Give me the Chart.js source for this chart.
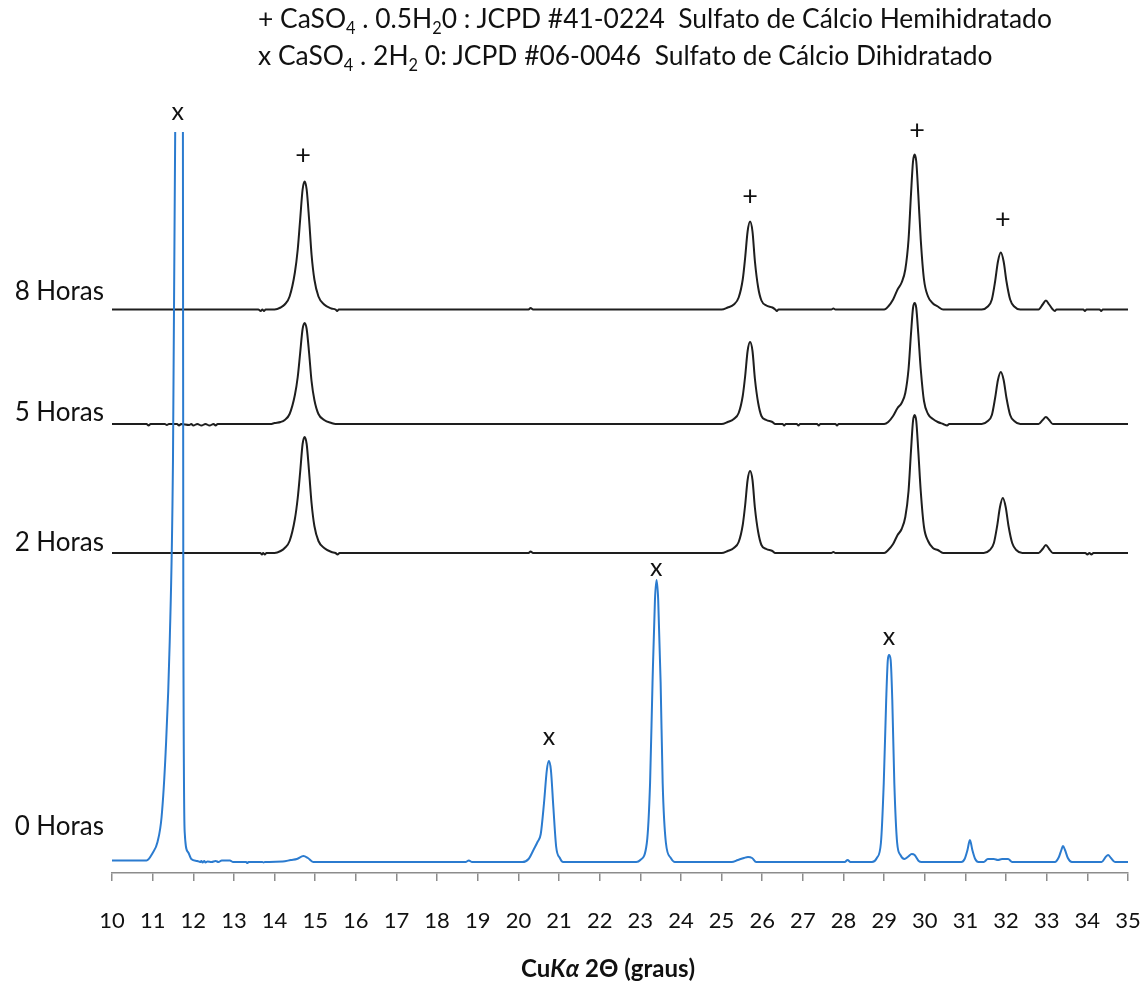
<!DOCTYPE html>
<html lang="pt">
<head>
<meta charset="utf-8">
<title>DRX - Sulfato de Cálcio</title>
<script src="https://cdn.jsdelivr.net/npm/chart.js@4.4.1/dist/chart.umd.min.js"></script>
<style>
  html, body { margin: 0; padding: 0; background: #fff; }
  #wrap { position: relative; width: 1148px; height: 983px; }
  #xrd { position: absolute; left: 0; top: 0; }
  .hdr { position: absolute; left: 258px; top: 0px; font-family: Lato, "Liberation Sans", sans-serif;
         font-size: 26.4px; line-height: 37px; color: #111; white-space: pre; }
  .hdr sub { font-size: 0.62em; vertical-align: -0.35em; line-height: 0; }
  .xtitle { position: absolute; left: 521px; top: 953px; font-family: Lato, "Liberation Sans", sans-serif;
            font-size: 24px; font-weight: bold; color: #111; white-space: pre; }
</style>
</head>
<body>
<div id="wrap">
  <canvas id="xrd" width="1148" height="983"></canvas>
  <div class="hdr"><div>+ CaSO<sub>4</sub> . 0.5H<sub>2</sub>0 : JCPD #41-0224  Sulfato de Cálcio Hemihidratado</div><div>x CaSO<sub>4</sub> . 2H<sub>2</sub> 0: JCPD #06-0046  Sulfato de Cálcio Dihidratado</div></div>
  <div class="xtitle">Cu<i>Kα</i> 2Θ (graus)</div>
</div>
<script>
const trace0h = [
  [10, 1.5], [10.85, 1.5], [11.00, 9], [11.12, 20], [11.22, 45], [11.32, 110], [11.42, 220],
  [11.50, 400], [11.56, 760], [11.63, 1400], [11.745, 730], [11.755, 262], [11.79, 29], [11.87, 10], [11.95, 3],
  [12.10, 1], [12.17, 0], [12.20, 1], [12.23, -0.5], [12.27, 1], [12.30, -0.5], [12.35, 0.5],
  [12.45, 0], [12.55, 1], [12.62, 0], [12.70, 1.5], [12.90, 1.5], [12.98, 0], [13.30, 0],
  [13.33, -1], [13.36, 0], [13.70, 0], [13.73, -0.5], [13.76, 0], [14.20, 0.5], [14.40, 2],
  [14.55, 3], [14.71, 6], [14.82, 4], [14.95, 0], [18.70, 0], [18.78, 1.5], [18.86, 0],
  [20.10, 0], [20.25, 3], [20.37, 12], [20.47, 20], [20.55, 28], [20.63, 59], [20.70, 92],
  [20.75, 101], [20.80, 92], [20.86, 55], [20.93, 15], [21.02, 4], [21.10, 0],
  [22.90, 0], [23.00, 2], [23.16, 19], [23.24, 79], [23.30, 179], [23.36, 262], [23.40, 282],
  [23.44, 262], [23.50, 179], [23.55, 79], [23.63, 19], [23.75, 4], [23.85, 0],
  [25.25, 0], [25.40, 2], [25.55, 4], [25.65, 5], [25.75, 4], [25.85, 0],
  [28.03, 0], [28.10, 2], [28.17, 0],
  [28.70, 0], [28.82, 4], [28.92, 19], [28.99, 79], [29.05, 162], [29.09, 202], [29.12, 207],
  [29.16, 202], [29.20, 162], [29.25, 79], [29.32, 19], [29.40, 7], [29.50, 3], [29.58, 5],
  [29.68, 8], [29.75, 7], [29.85, 1], [29.92, 0],
  [30.90, 0], [30.98, 3], [31.05, 12], [31.11, 22], [31.17, 12], [31.24, 3], [31.32, 0],
  [31.45, 0], [31.55, 3], [31.70, 3], [31.80, 2], [31.90, 3], [32.05, 3], [32.15, 0],
  [33.20, 0], [33.30, 5], [33.36, 12], [33.40, 16], [33.45, 12], [33.52, 4], [33.62, 0],
  [34.35, 0], [34.45, 5], [34.51, 7], [34.58, 4], [34.68, 0], [35, 0]
];

const trace2h = [
  [10, 0], [13.65, 0], [13.69, -1.5], [13.72, 0], [13.76, -1.5], [13.80, 0],
  [14.00, 0], [14.15, 2], [14.25, 5], [14.37, 12], [14.50, 34], [14.57, 55], [14.63, 81],
  [14.69, 109], [14.74, 116], [14.79, 109], [14.85, 81], [14.91, 50], [14.98, 27], [15.08, 12],
  [15.22, 5], [15.40, 1], [15.50, 0], [15.55, -1.5], [15.60, 0],
  [20.25, 0], [20.30, 1.5], [20.36, 0],
  [25.00, 0], [25.15, 2], [25.30, 5], [25.42, 11], [25.52, 28], [25.58, 48], [25.64, 73],
  [25.70, 82], [25.76, 73], [25.82, 45], [25.90, 21], [25.98, 8], [26.10, 4], [26.25, 2], [26.32, 0],
  [27.70, 0], [27.75, 1], [27.80, 0],
  [29.00, 0], [29.10, 3], [29.22, 9], [29.33, 18], [29.43, 24], [29.52, 36], [29.60, 62],
  [29.66, 102], [29.71, 132], [29.75, 138], [29.79, 132], [29.84, 102], [29.90, 62],
  [29.98, 26], [30.08, 12], [30.20, 5], [30.32, 3], [30.45, 0],
  [31.45, 0], [31.60, 3], [31.70, 10], [31.78, 27], [31.85, 46], [31.92, 55], [31.99, 46],
  [32.06, 27], [32.15, 10], [32.25, 3], [32.40, 0],
  [32.80, 0], [32.90, 4], [32.98, 8], [33.06, 4], [33.15, 0],
  [33.95, 0], [34.00, -1.5], [34.05, 0], [34.10, -1.5], [34.15, 0], [35, 0]
];

const trace5h = [
  [10, 0], [10.85, 0], [10.90, -1.5], [10.95, 0], [11.30, 0], [11.35, -1], [11.40, 0],
  [11.60, 0], [11.65, -1.5], [11.70, 0], [11.90, -1], [11.95, 0], [12.00, -1.5], [12.10, 0],
  [12.20, -1.5], [12.30, 0], [12.40, -1.5], [12.50, 0], [12.55, -1.5], [12.60, 0],
  [13.90, 0], [14.00, 1], [14.15, 2], [14.25, 4], [14.37, 10], [14.50, 29], [14.57, 47],
  [14.63, 71], [14.69, 95], [14.74, 101], [14.79, 95], [14.85, 71], [14.91, 43], [14.98, 24],
  [15.08, 10], [15.22, 4], [15.40, 1], [15.50, 0],
  [25.00, 0], [25.15, 2], [25.30, 5], [25.42, 11], [25.52, 28], [25.58, 48], [25.64, 73],
  [25.70, 82], [25.76, 73], [25.82, 45], [25.90, 21], [25.98, 8], [26.10, 4], [26.25, 2], [26.32, 0],
  [26.50, 0], [26.54, -1.5], [26.58, 0], [26.85, 0], [26.89, -1.5], [26.93, 0],
  [27.35, 0], [27.39, -1.5], [27.43, 0], [27.80, 0], [27.84, -1.5], [27.88, 0],
  [29.00, 0], [29.10, 2], [29.22, 8], [29.33, 16], [29.43, 21], [29.52, 31], [29.60, 55],
  [29.66, 90], [29.71, 116], [29.75, 121], [29.79, 116], [29.84, 90], [29.90, 55],
  [29.98, 23], [30.08, 10], [30.20, 5], [30.32, 2], [30.45, 0], [30.55, -1.5], [30.60, 0],
  [31.40, 0], [31.55, 3], [31.65, 9], [31.73, 26], [31.80, 44], [31.87, 52], [31.94, 44],
  [32.01, 26], [32.10, 9], [32.20, 3], [32.35, 0],
  [32.80, 0], [32.90, 4], [32.98, 7], [33.06, 4], [33.15, 0], [35, 0]
];

const trace8h = [
  [10, 0], [13.60, 0], [13.66, -1.5], [13.70, 0], [13.74, -1.5], [13.78, 0],
  [14.00, 0], [14.15, 2], [14.25, 5], [14.37, 13], [14.50, 37], [14.57, 60], [14.63, 90],
  [14.69, 120], [14.74, 128], [14.79, 120], [14.85, 90], [14.91, 55], [14.98, 30], [15.08, 13],
  [15.22, 5], [15.40, 1], [15.50, 0], [15.54, -1.5], [15.58, 0],
  [20.25, 0], [20.30, 1.5], [20.36, 0],
  [25.00, 0], [25.15, 2], [25.30, 5], [25.42, 12], [25.52, 30], [25.58, 52], [25.64, 78],
  [25.70, 88], [25.76, 78], [25.82, 48], [25.90, 22], [25.98, 9], [26.10, 4], [26.25, 2],
  [26.32, 0], [26.36, -1.5], [26.40, 0],
  [27.70, 0], [27.75, 1], [27.80, 0],
  [29.00, 0], [29.10, 3], [29.22, 10], [29.33, 20], [29.43, 27], [29.52, 40], [29.60, 70],
  [29.66, 115], [29.71, 148], [29.75, 155], [29.79, 148], [29.84, 115], [29.90, 70],
  [29.98, 30], [30.08, 13], [30.20, 6], [30.32, 3], [30.45, 0],
  [31.40, 0], [31.55, 3], [31.65, 10], [31.73, 28], [31.80, 48], [31.87, 57], [31.94, 48],
  [32.01, 28], [32.10, 10], [32.20, 3], [32.35, 0],
  [32.80, 0], [32.90, 5], [32.98, 9], [33.06, 5], [33.15, 0], [33.20, -1.5], [33.24, 0],
  [33.90, 0], [33.94, -1.5], [33.98, 0], [34.30, 0], [34.34, -1.5], [34.38, 0], [35, 0]
];

// deslocamento vertical de cada curva (empilhamento)
const traceNames = ["0 Horas", "2 Horas", "5 Horas", "8 Horas"];
const traceOffsets = [11, 320, 449, 563.5];
const traceColors = ["#2b7bcf", "#1e1e1e", "#1e1e1e", "#1e1e1e"];
const nameY = [46, 330, 460, 581];

// marcadores de fase: + hemidratado, x dihidratado
const markerText = ["x", "+", "+", "+", "+", "x", "x", "x"];
const markerX = [11.62, 14.70, 25.70, 29.81, 31.92, 20.75, 23.39, 29.12];
const markerY = [761, 718, 677, 743, 654, 136, 305, 236];

const xTicksMin = 10;
const xTicksMax = 35;

const FONT = 'Lato, "Liberation Sans", sans-serif';
const traces = [trace0h, trace2h, trace5h, trace8h];

const datasets = traces.map((tr, i) => ({
  label: traceNames[i],
  data: tr.map(([x, v]) => ({ x, y: v + traceOffsets[i] })),
  borderColor: traceColors[i],
  borderWidth: 2,
  pointRadius: 0,
  cubicInterpolationMode: "monotone",
  fill: false,
}));

const labelPlugin = {
  id: "xrdLabels",
  afterDraw(chart) {
    const { ctx, scales } = chart;
    const xs = scales.x, ys = scales.y;
    ctx.save();
    ctx.fillStyle = "#111";
    ctx.textBaseline = "middle";

    ctx.font = "26px " + FONT;
    ctx.textAlign = "right";
    traceNames.forEach((name, i) => {
      ctx.fillText(name, xs.getPixelForValue(xTicksMin) - 8, ys.getPixelForValue(nameY[i]));
    });

    ctx.textAlign = "center";
    markerText.forEach((t, i) => {
      ctx.font = (t === "+" ? "27px " : "25px ") + FONT;
      ctx.fillText(t, xs.getPixelForValue(markerX[i]), ys.getPixelForValue(markerY[i]));
    });
    ctx.restore();
  },
};

new Chart(document.getElementById("xrd"), {
  type: "line",
  data: { datasets },
  options: {
    responsive: false,
    animation: false,
    events: [],
    layout: { padding: { left: 112, right: 20, top: 132, bottom: 0 } },
    plugins: { legend: { display: false }, tooltip: { enabled: false } },
    scales: {
      x: {
        type: "linear",
        min: xTicksMin,
        max: xTicksMax,
        afterFit: (s) => { s.height = 110; s.paddingRight = 12; s.paddingLeft = 12; },
        ticks: { stepSize: 1, color: "#111", padding: 27, font: { family: FONT, size: 22 } },
        grid: { drawOnChartArea: false, drawTicks: true, tickLength: 8, color: "#8c8c8c", lineWidth: 1.5 },
        border: { display: true, color: "#8c8c8c", width: 1.5 },
      },
      y: { display: false, min: 0, max: 741 },
    },
  },
  plugins: [labelPlugin],
});
</script>
</body>
</html>
